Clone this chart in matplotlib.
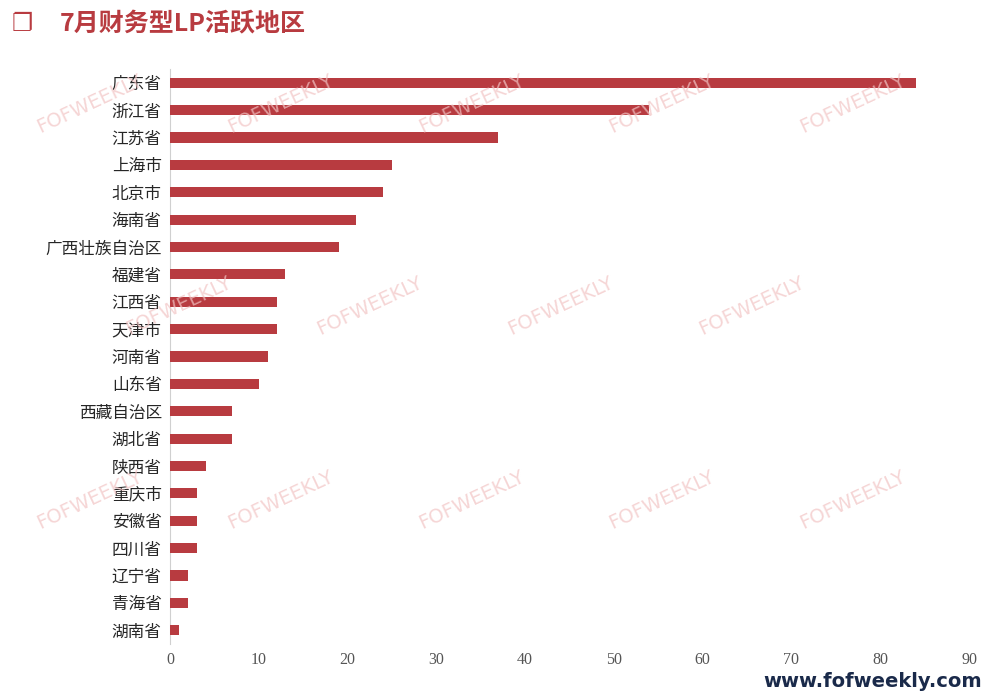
import matplotlib
matplotlib.use("Agg")
import matplotlib.pyplot as plt
from matplotlib import font_manager as fm
import numpy as np

regions = ["广东省", "浙江省", "江苏省", "上海市", "北京市", "海南省", "广西壮族自治区",
           "福建省", "江西省", "天津市", "河南省", "山东省", "西藏自治区", "湖北省",
           "陕西省", "重庆市", "安徽省", "四川省", "辽宁省", "青海省", "湖南省"]
counts = [84, 54, 37, 25, 24, 21, 19, 13, 12, 12, 11, 10, 7, 7, 4, 3, 3, 3, 2, 2, 1]
xticks = [0, 10, 20, 30, 40, 50, 60, 70, 80, 90]

# pick an installed CJK font
cjk_names = sorted({f.name for f in fm.fontManager.ttflist if "CJK" in f.name})
CJK = next((n for n in cjk_names if "SC" in n), cjk_names[0] if cjk_names else "DejaVu Sans")
RED = "#b83b40"

fig = plt.figure(figsize=(9.94, 6.94), dpi=100)
ax = fig.add_axes([170 / 994, 1 - 644 / 694, 799 / 994, 575 / 694])

y = np.arange(len(regions))
ax.barh(y, counts, height=0.37, color=RED, zorder=3)
ax.set_ylim(len(regions) - 0.5, -0.5)
ax.set_xlim(0, 90)
ax.set_yticks(y)
ax.set_yticklabels(regions, fontfamily=CJK, fontsize=12, color="#262626")
ax.set_xticks(xticks)
ax.set_xticklabels([str(v) for v in xticks], fontfamily="Liberation Serif",
                   fontsize=11.5, color="#555555")
ax.tick_params(axis="both", length=0, pad=6)
for s in ["top", "right", "bottom"]:
    ax.spines[s].set_visible(False)
ax.spines["left"].set_color("#d0d0d0")

# watermark grid
for row, wy in enumerate([0.85, 0.56, 0.28]):
    off = 0.0 if row % 2 == 0 else 0.09
    for wx in np.arange(0.09 + off, 0.92, 0.192):
        fig.text(wx, wy, "FOFWEEKLY", rotation=25, fontsize=14,
                 color="#f2c4c4", alpha=0.7, ha="center", va="center", zorder=0)

fig.text(0.012, 0.965, "❐", fontfamily="DejaVu Sans", fontsize=17, color=RED,
         fontweight="bold", va="center")
fig.text(0.06, 0.965, "7月财务型LP活跃地区", fontfamily=CJK, fontsize=18,
         color=RED, fontweight="bold", va="center")
fig.text(0.988, 0.005, "www.fofweekly.com", fontfamily="DejaVu Sans", fontsize=14,
         color="#1a2a4a", fontweight="bold", ha="right", va="bottom")

fig.savefig("out.png", dpi=100)
